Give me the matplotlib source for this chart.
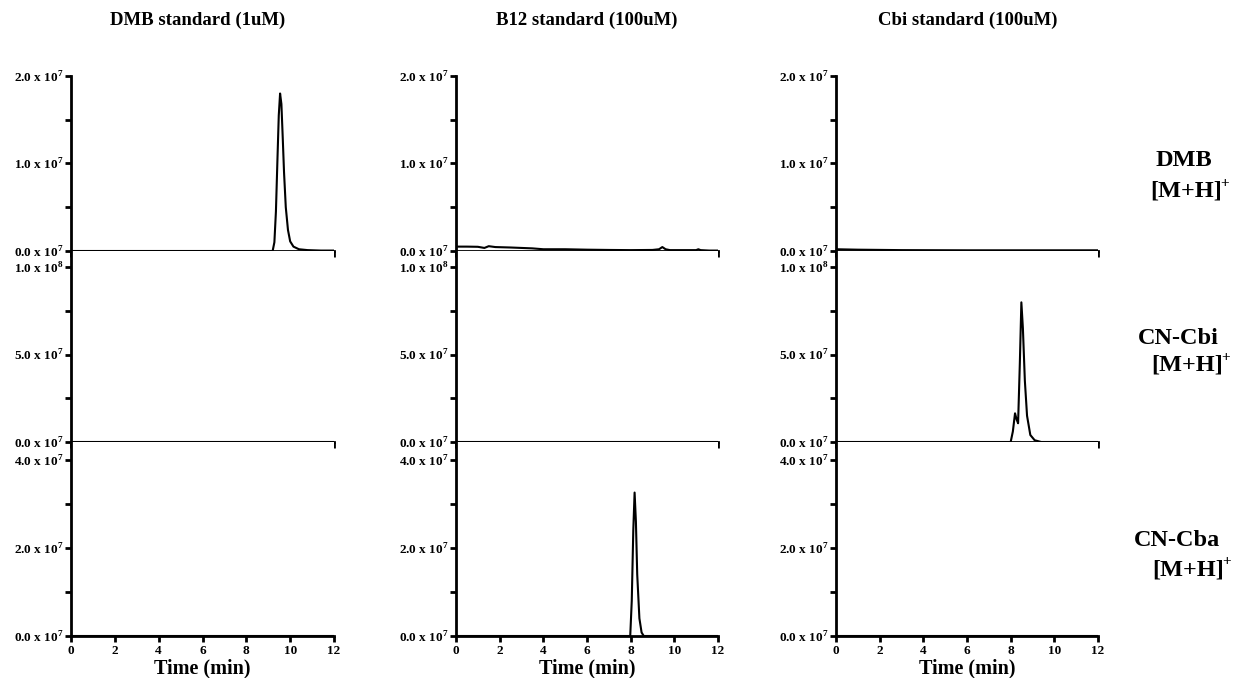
import matplotlib
matplotlib.use('Agg')
import matplotlib.pyplot as plt
from matplotlib.ticker import FixedLocator

plt.rcParams['font.family'] = ['Liberation Serif', 'DejaVu Serif']
plt.rcParams['font.weight'] = 'bold'
plt.rcParams['mathtext.fontset'] = 'custom'
plt.rcParams['mathtext.rm'] = 'Liberation Serif:bold'
plt.rcParams['mathtext.bf'] = 'Liberation Serif:bold'

# column / row names
standards = ['DMB standard (1uM)', 'B12 standard (100uM)', 'Cbi standard (100uM)']
ions = ['DMB', 'CN-Cbi', 'CN-Cba']

# y ticks per row (major, minor) and labels
row_major = [[0, 1e7, 2e7], [0, 5e7, 1e8], [0, 2e7, 4e7]]
row_minor = [[0.5e7, 1.5e7], [2.5e7, 7.5e7], [1e7, 3e7]]
row_labels = [['0.0 x 10$^{7}$', '1.0 x 10$^{7}$', '2.0 x 10$^{7}$'],
              ['0.0 x 10$^{7}$', '5.0 x 10$^{7}$', '1.0 x 10$^{8}$'],
              ['0.0 x 10$^{7}$', '2.0 x 10$^{7}$', '4.0 x 10$^{7}$']]
x_ticks = [0, 2, 4, 6, 8, 10, 12]

# traces (time in min, intensity in units of 1e7)
dmb_in_dmb_t = [0, 9.2, 9.28, 9.35, 9.42, 9.48, 9.54, 9.6, 9.66, 9.72, 9.8, 9.9, 10.0, 10.15, 10.4, 10.8, 11.4, 12]
dmb_in_dmb_y = [0, 0, 0.1, 0.45, 1.05, 1.55, 1.80, 1.68, 1.3, 0.9, 0.5, 0.24, 0.11, 0.05, 0.02, 0.01, 0.005, 0.005]

dmb_in_b12_t = [0, 0.5, 1.0, 1.3, 1.5, 1.8, 2.5, 3.0, 3.5, 4.0, 5.0, 6.0, 7.0, 8.0, 9.0, 9.3, 9.45, 9.6, 9.8, 10.5, 11.0, 11.1, 11.2, 11.6, 12.0]
dmb_in_b12_y = [0.05, 0.05, 0.048, 0.035, 0.055, 0.045, 0.04, 0.035, 0.03, 0.02, 0.02, 0.015, 0.012, 0.01, 0.012, 0.02, 0.045, 0.02, 0.01, 0.01, 0.01, 0.02, 0.01, 0.005, 0.005]

dmb_in_cbi_t = [0, 1, 3, 6, 9, 12]
dmb_in_cbi_y = [0.02, 0.015, 0.01, 0.008, 0.008, 0.008]

cbi_in_cbi_t = [0, 8.0, 8.1, 8.2, 8.27, 8.34, 8.42, 8.49, 8.56, 8.65, 8.75, 8.9, 9.1, 9.4, 12]
cbi_in_cbi_y = [0, 0, 0.6, 1.64, 1.3, 1.07, 4.5, 7.98, 6.5, 3.5, 1.5, 0.4, 0.1, 0, 0]

cba_in_b12_t = [0, 7.98, 8.05, 8.12, 8.18, 8.24, 8.3, 8.4, 8.5, 8.6, 12]
cba_in_b12_y = [0, 0, 0.8, 2.4, 3.26, 2.6, 1.4, 0.4, 0.08, 0, 0]

flat_t = [0, 12]
flat_y = [0, 0]

traces = [[(dmb_in_dmb_t, dmb_in_dmb_y), (dmb_in_b12_t, dmb_in_b12_y), (dmb_in_cbi_t, dmb_in_cbi_y)],
          [(flat_t, flat_y), (flat_t, flat_y), (cbi_in_cbi_t, cbi_in_cbi_y)],
          [(flat_t, flat_y), (cba_in_b12_t, cba_in_b12_y), (flat_t, flat_y)]]

W, H = 1237, 678
fig = plt.figure(figsize=(W / 100, H / 100), dpi=100)

col_px = [(71, 334), (456, 718), (836, 1098)]
# axes top, top tick, bottom (pixels from top)
row_px = [(76, 76, 251), (251, 267, 442), (442, 460, 636)]

for r in range(3):
    top, ttick, bot = row_px[r]
    ymax = row_major[r][-1] * (bot - top) / (bot - ttick)
    for c in range(3):
        x0, x1 = col_px[c]
        ax = fig.add_axes([x0 / W, 1 - bot / H, (x1 - x0) / W, (bot - top) / H])
        t, y = traces[r][c]
        ax.plot(t, [v * 1e7 for v in y], color='black', lw=1.5)
        ax.set_xlim(0, 12)
        ax.set_ylim(0, ymax)
        for s in ['top', 'right']:
            ax.spines[s].set_visible(False)
        for s in ['left', 'bottom']:
            ax.spines[s].set_linewidth(2)
        ax.yaxis.set_major_locator(FixedLocator(row_major[r]))
        ax.yaxis.set_minor_locator(FixedLocator(row_minor[r]))
        ax.set_yticklabels(row_labels[r], fontsize=9.5, fontweight='bold')
        ax.set_xticks(x_ticks)
        ax.tick_params(axis='both', which='major', direction='out', length=4.5, width=2, pad=1)
        ax.tick_params(axis='y', which='minor', direction='out', length=4.5, width=2)
        if r == 2:
            ax.set_xticklabels([str(v) for v in x_ticks], fontsize=9.5, fontweight='bold')
            ax.tick_params(axis='x', pad=2)
            ax.set_xlabel('Time (min)', fontsize=14.5, fontweight='bold', labelpad=1)
        else:
            ax.set_xticklabels([])

title_x = [198, 587, 968]
for c in range(3):
    fig.text(title_x[c] / W, 1 - 20 / H, standards[c], ha='center', va='center',
             fontsize=13.5, fontweight='bold')

# ion name and [M+H]+ line, positions in pixels
ion_name_pos = [(1184, 161), (1178, 338), (1177, 541)]
ion_mh_pos = [(1186, 191), (1187, 365), (1188, 570)]
for r in range(3):
    fig.text(ion_name_pos[r][0] / W, 1 - ion_name_pos[r][1] / H, ions[r], ha='center', va='center',
             fontsize=17.5, fontweight='bold')
    fig.text(ion_mh_pos[r][0] / W, 1 - ion_mh_pos[r][1] / H, '[M+H]', ha='center', va='center',
             fontsize=17.5, fontweight='bold')
    fig.text((ion_mh_pos[r][0] + 34) / W, 1 - (ion_mh_pos[r][1] - 8) / H, '+', ha='left', va='center',
             fontsize=11, fontweight='bold')

fig.savefig('out.png', dpi=100, facecolor='white')
